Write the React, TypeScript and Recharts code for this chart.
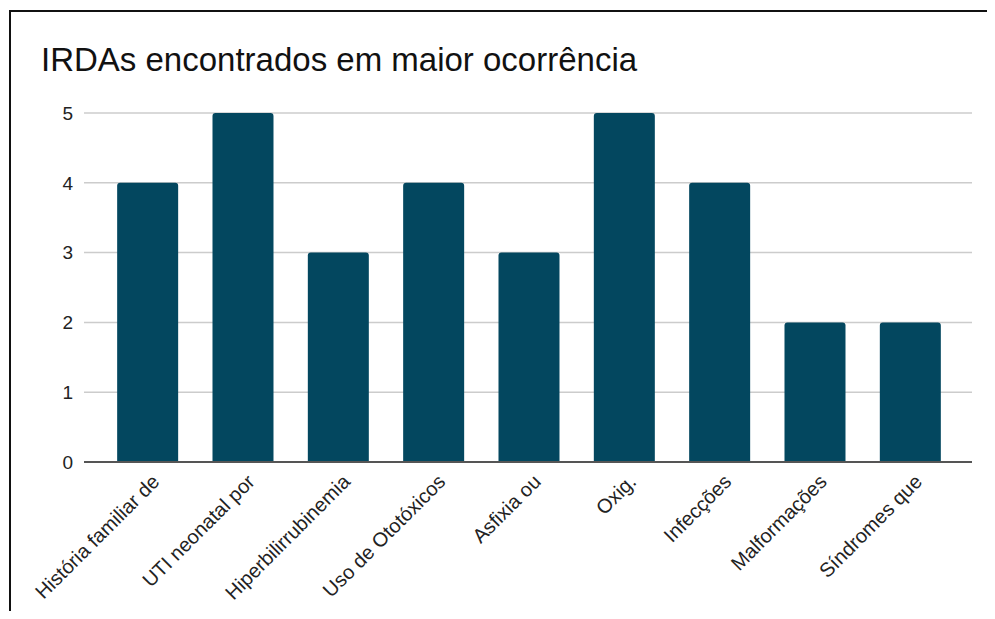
import React from "react";
import { BarChart, Bar, XAxis, YAxis, CartesianGrid } from "recharts";

const categories = [
  "História familiar de",
  "UTI neonatal por",
  "Hiperbilirrubinemia",
  "Uso de Ototóxicos",
  "Asfixia ou",
  "Oxig.",
  "Infecções",
  "Malformações",
  "Síndromes que",
];
const counts = [4, 5, 3, 4, 3, 5, 4, 2, 2];
const yTicks = [0, 1, 2, 3, 4, 5];

const data = categories.map((name, i) => ({ name, value: counts[i] }));

const FONT = "Arial, 'Liberation Sans', sans-serif";

const RotatedTick = (props: any) => {
  const { x, y, payload } = props;
  const tx = x + 13;
  const ty = y + 13;
  return (
    <text
      x={tx}
      y={ty}
      textAnchor="end"
      fontSize={20}
      fontFamily={FONT}
      fill="#222"
      transform={`rotate(-45, ${tx}, ${ty})`}
    >
      {payload.value}
    </text>
  );
};

export default function App() {
  return (
    <div style={{ position: "relative", width: 979, height: 603 }}>
      <div
        style={{
          position: "absolute",
          left: 1,
          top: 2,
          width: 978,
          height: 601,
          borderTop: "2px solid #111",
          borderLeft: "2px solid #111",
          boxSizing: "border-box",
        }}
      />
      <div
        style={{
          position: "absolute",
          left: 33,
          top: 33,
          fontFamily: FONT,
          fontSize: 33,
          color: "#111",
          whiteSpace: "nowrap",
          lineHeight: "38px",
        }}
      >
        IRDAs encontrados em maior ocorrência
      </div>
      <div style={{ position: "absolute", left: 0, top: 0 }}>
        <BarChart
          width={979}
          height={603}
          data={data}
          margin={{ top: 105, right: 15, bottom: 0, left: 16 }}
          barCategoryGap="18%"
        >
          <CartesianGrid vertical={false} stroke="#cccccc" strokeWidth={1.5} />
          <XAxis
            dataKey="name"
            interval={0}
            tickLine={false}
            axisLine={{ stroke: "#555", strokeWidth: 2 }}
            padding={{ left: 16, right: 14 }}
            height={149}
            tick={<RotatedTick />}
          />
          <YAxis
            domain={[0, 5]}
            ticks={yTicks}
            axisLine={false}
            tickLine={false}
            tickSize={0}
            tickMargin={11}
            width={60}
            tick={{ fontSize: 19, fontFamily: FONT, fill: "#222" }}
          />
          <Bar
            dataKey="value"
            fill="#03475f"
            radius={[3, 3, 0, 0]}
            isAnimationActive={false}
          />
        </BarChart>
      </div>
    </div>
  );
}
